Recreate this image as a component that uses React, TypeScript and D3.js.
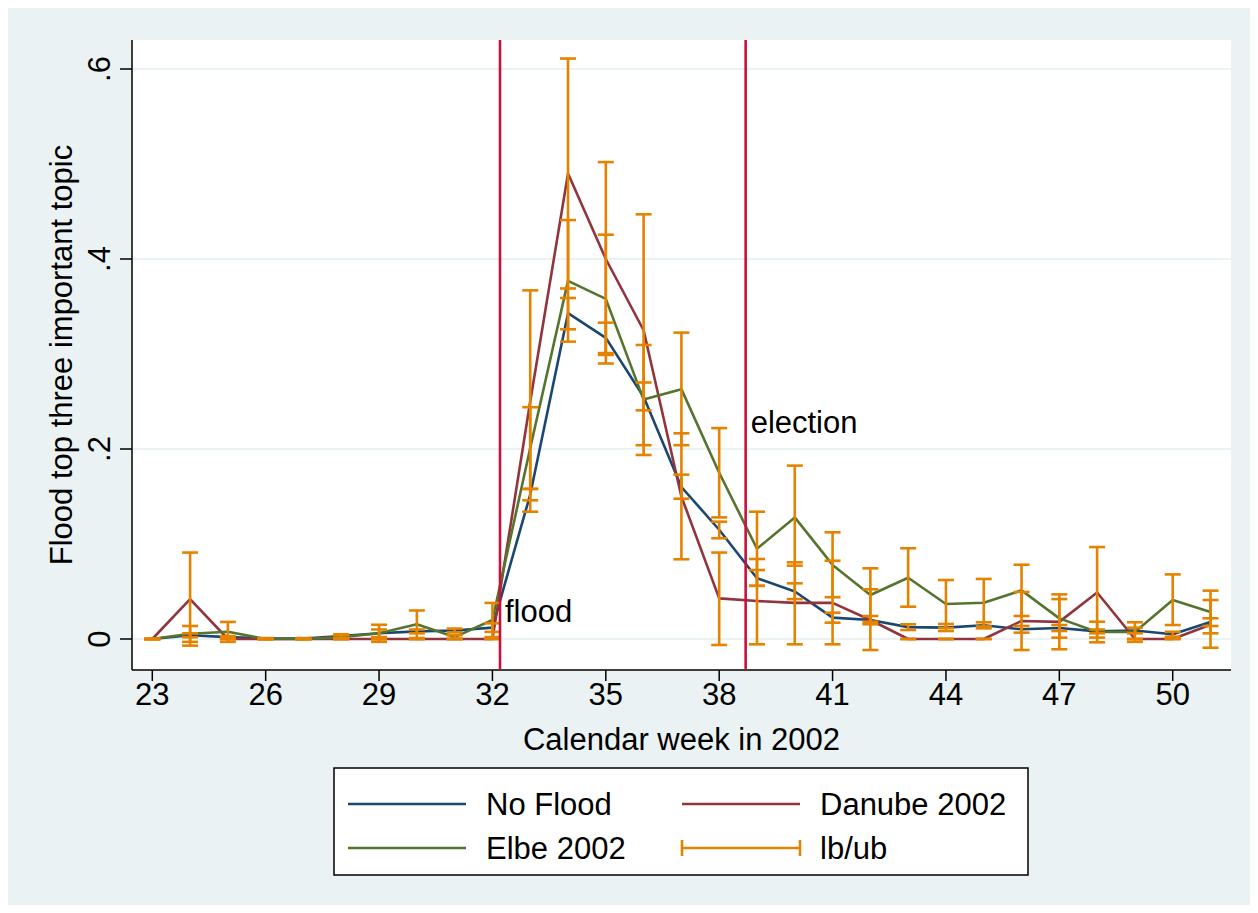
import React from "react";
import * as d3 from "d3";

// Share naming the flood as a top-three topic, by calendar week 2002, with lb/ub caps.
const weeks = [23, 24, 25, 26, 27, 28, 29, 30, 31, 32, 33, 34, 35, 36, 37, 38, 39, 40, 41, 42, 43, 44, 45, 46, 47, 48, 49, 50, 51];

const noFlood = [0, 0.004, 0.002, 0.0005, 0.0005, 0.003, 0.006, 0.008, 0.009, 0.012, 0.152, 0.343, 0.317, 0.255, 0.16, 0.115, 0.064, 0.05, 0.0225, 0.02, 0.0125, 0.012, 0.0144, 0.0102, 0.0115, 0.008, 0.009, 0.005, 0.0178];
const noFloodLb = [0, 0.0018, 0.001, 0, 0, 0.001, 0.002, 0.006, 0.007, 0.0075, 0.146, 0.326, 0.301, 0.2407, 0.1477, 0.106, 0.056, 0.042, 0.0172, 0.0155, 0.0095, 0.0084, 0.0112, 0.0067, 0.0084, 0.006, 0.006, 0.0024, 0.0137];
const noFloodUb = [0, 0.006, 0.003, 0.001, 0.001, 0.005, 0.01, 0.01, 0.011, 0.0165, 0.158, 0.359, 0.333, 0.27, 0.173, 0.1235, 0.0726, 0.0586, 0.0277, 0.0242, 0.0155, 0.0158, 0.0176, 0.0137, 0.0147, 0.01, 0.0119, 0.0076, 0.0218];

const danube = [0, 0.042, 0, 0, 0, 0, 0, 0, 0, 0, 0.25, 0.49, 0.4, 0.325, 0.15, 0.0428, 0.04, 0.038, 0.038, 0.02, 0, 0, 0, 0.019, 0.018, 0.049, 0, 0, 0.015];
const danubeLb = [0, -0.007, 0, 0, 0, 0, 0, 0, 0, 0, 0.134, 0.369, 0.299, 0.204, 0.0839, -0.0063, -0.0056, -0.0056, -0.0056, -0.0116, 0, 0, 0, -0.0116, -0.0108, 0.0015, 0, 0, -0.0092];
const danubeUb = [0, 0.091, 0, 0, 0, 0, 0, 0, 0, 0, 0.367, 0.611, 0.502, 0.447, 0.2165, 0.091, 0.0842, 0.0807, 0.0824, 0.0523, 0, 0, 0, 0.0495, 0.047, 0.0968, 0, 0, 0.041];

const elbe = [0, 0.0055, 0.0077, 0, 0, 0.002, 0.006, 0.0155, 0.002, 0.02, 0.201, 0.377, 0.358, 0.252, 0.263, 0.175, 0.095, 0.128, 0.078, 0.0463, 0.0645, 0.0368, 0.0382, 0.0512, 0.0217, 0.0074, 0.0073, 0.041, 0.0285];
const elbeLb = [0, -0.003, -0.003, 0, 0, 0, -0.003, 0.001, 0, 0.002, 0.158, 0.313, 0.29, 0.1937, 0.204, 0.128, 0.056, 0.0772, 0.044, 0.0182, 0.034, 0.0115, 0.0132, 0.0242, 0.0014, -0.0035, -0.003, 0.0147, 0.006];
const elbeUb = [0, 0.0137, 0.018, 0, 0, 0.004, 0.015, 0.03, 0.004, 0.038, 0.244, 0.441, 0.4256, 0.3095, 0.3225, 0.222, 0.134, 0.1825, 0.1123, 0.0744, 0.0955, 0.0621, 0.0632, 0.0782, 0.042, 0.0182, 0.0176, 0.068, 0.0509];

const xTicks = [23, 26, 29, 32, 35, 38, 41, 44, 47, 50];
const yTicks = [0, 0.2, 0.4, 0.6];
const yTickLabels = ["0", ".2", ".4", ".6"];
const events = [
  { week: 32.2, label: "flood", labelY: 0.018 },
  { week: 38.7, label: "election", labelY: 0.217 },
];

const NAVY = "#1a476f";
const MAROON = "#90353b";
const GREEN = "#55752f";
const ORANGE = "#e58300";
const CRIMSON = "#c8103c";
const BG = "#eaf2f3";
const FONT = "'Liberation Sans', Arial, Helvetica, sans-serif";

export default function App() {
  const plot = { left: 132, right: 1231, top: 40, bottom: 670 };
  const x = d3.scaleLinear().domain([23, 51]).range([152.3, 1210.5]);
  const y = d3.scaleLinear().domain([0, 0.6]).range([639, 69]);

  const line = d3
    .line<number>()
    .x((_, i) => x(weeks[i]))
    .y((d) => y(d));

  const series = [
    { name: "No Flood", vals: noFlood, color: NAVY },
    { name: "Danube 2002", vals: danube, color: MAROON },
    { name: "Elbe 2002", vals: elbe, color: GREEN },
  ];
  const bands = [
    [noFloodLb, noFloodUb],
    [danubeLb, danubeUb],
    [elbeLb, elbeUb],
  ];
  const cap = 8;

  return (
    <svg
      width={1258}
      height={913}
      style={{ position: "absolute", left: 0, top: 0, fontFamily: FONT }}
    >
      <rect x={0} y={0} width={1258} height={913} fill="#fff" />
      <rect x={8} y={8} width={1242} height={897} fill={BG} />
      <rect x={plot.left} y={plot.top} width={plot.right - plot.left} height={plot.bottom - plot.top} fill="#fff" />

      {yTicks.map((t) => (
        <line key={"g" + t} x1={plot.left} x2={plot.right} y1={y(t)} y2={y(t)} stroke={BG} strokeWidth={2} />
      ))}

      {/* axes */}
      <line x1={plot.left} x2={plot.left} y1={plot.top} y2={plot.bottom} stroke="#000" strokeWidth={1.5} />
      <line x1={plot.left} x2={plot.right} y1={plot.bottom} y2={plot.bottom} stroke="#000" strokeWidth={1.5} />
      {yTicks.map((t, i) => (
        <g key={"y" + t}>
          <line x1={plot.left - 12} x2={plot.left} y1={y(t)} y2={y(t)} stroke="#000" strokeWidth={1.5} />
          <text
            transform={`translate(110,${y(t)}) rotate(-90)`}
            textAnchor="middle"
            fontSize={31}
          >
            {yTickLabels[i]}
          </text>
        </g>
      ))}
      {xTicks.map((t) => (
        <g key={"x" + t}>
          <line x1={x(t)} x2={x(t)} y1={plot.bottom} y2={plot.bottom + 11} stroke="#000" strokeWidth={1.5} />
          <text x={x(t)} y={705} textAnchor="middle" fontSize={31}>
            {t}
          </text>
        </g>
      ))}
      <text x={(plot.left + plot.right) / 2} y={750} textAnchor="middle" fontSize={31}>
        Calendar week in 2002
      </text>
      <text transform={`translate(72,${(plot.top + plot.bottom) / 2}) rotate(-90)`} textAnchor="middle" fontSize={31}>
        Flood top three important topic
      </text>

      {/* series */}
      {series.map((s) => (
        <path key={s.name} d={line(s.vals) || ""} fill="none" stroke={s.color} strokeWidth={2.6} strokeLinejoin="round" />
      ))}

      {/* lb/ub caps */}
      {bands.map(([lb, ub], k) =>
        weeks.map((w, i) => (
          <g key={`c${k}-${w}`} stroke={ORANGE} strokeWidth={2.6}>
            <line x1={x(w)} x2={x(w)} y1={y(lb[i])} y2={y(ub[i])} />
            <line x1={x(w) - cap} x2={x(w) + cap} y1={y(lb[i])} y2={y(lb[i])} />
            <line x1={x(w) - cap} x2={x(w) + cap} y1={y(ub[i])} y2={y(ub[i])} />
          </g>
        ))
      )}

      {/* event lines */}
      {events.map((e) => (
        <g key={e.label}>
          <line x1={x(e.week)} x2={x(e.week)} y1={plot.top} y2={plot.bottom} stroke={CRIMSON} strokeWidth={2.6} />
          <text x={x(e.week) + 5} y={y(e.labelY)} fontSize={31}>
            {e.label}
          </text>
        </g>
      ))}

      {/* legend */}
      <rect x={334} y={768} width={694} height={107} fill="#fff" stroke="#000" strokeWidth={1.5} />
      {[
        { label: "No Flood", color: NAVY, lx: 348, ly: 804, err: false },
        { label: "Danube 2002", color: MAROON, lx: 682, ly: 804, err: false },
        { label: "Elbe 2002", color: GREEN, lx: 348, ly: 848, err: false },
        { label: "lb/ub", color: ORANGE, lx: 682, ly: 848, err: true },
      ].map((it) => (
        <g key={it.label}>
          <line x1={it.lx} x2={it.lx + 118} y1={it.ly} y2={it.ly} stroke={it.color} strokeWidth={2.6} />
          {it.err && (
            <>
              <line x1={it.lx} x2={it.lx} y1={it.ly - 8} y2={it.ly + 8} stroke={it.color} strokeWidth={2.6} />
              <line x1={it.lx + 118} x2={it.lx + 118} y1={it.ly - 8} y2={it.ly + 8} stroke={it.color} strokeWidth={2.6} />
            </>
          )}
          <text x={it.lx + 138} y={it.ly + 11} fontSize={31}>
            {it.label}
          </text>
        </g>
      ))}
    </svg>
  );
}
